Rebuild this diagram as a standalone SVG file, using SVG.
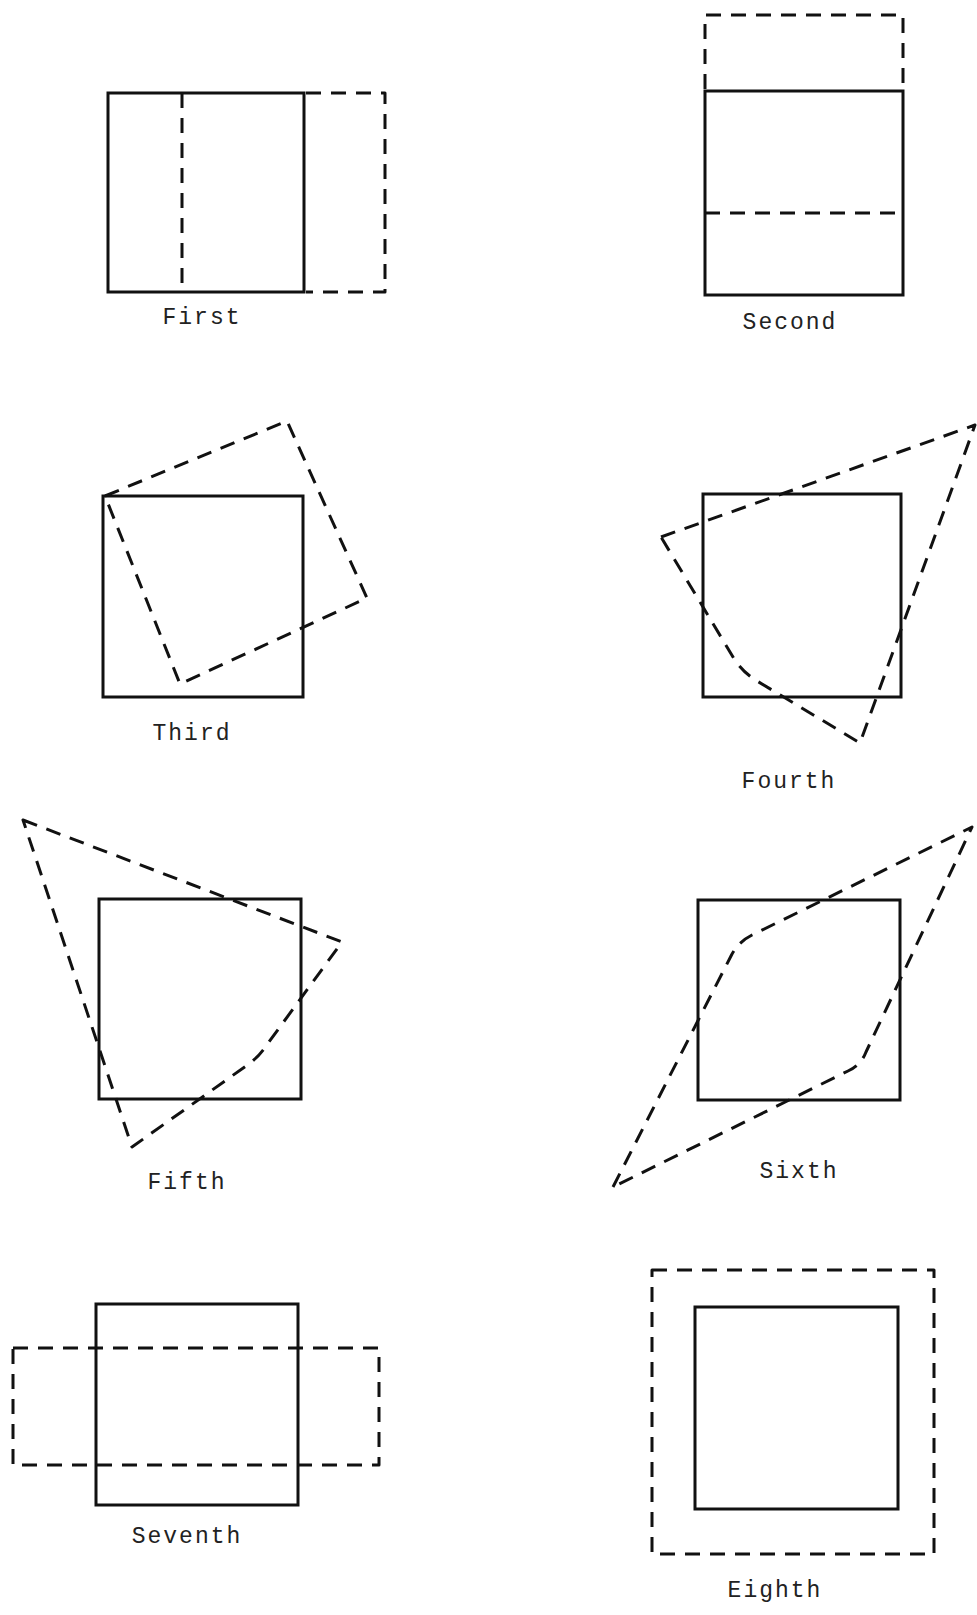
<svg xmlns="http://www.w3.org/2000/svg" width="977" height="1615" viewBox="0 0 977 1615">
<style>
.solid{fill:none;stroke:#111;stroke-width:3;stroke-linejoin:miter}
.dash{fill:none;stroke:#111;stroke-width:3;stroke-dasharray:15 10;stroke-linejoin:round}
.lbl{font-family:"Liberation Mono","DejaVu Sans Mono",monospace;font-size:23px;letter-spacing:2px;fill:#222;text-anchor:middle}
</style>
<rect width="977" height="1615" fill="#fff"/>
<g id="first">
<rect class="solid" x="108" y="93" width="196" height="199"/>
<line class="dash" x1="182" y1="93" x2="182" y2="292"/>
<polyline class="dash" points="306,93 385,93 385,292 306,292"/>
<text class="lbl" x="202" y="324">First</text>
</g>
<g id="second">
<rect class="solid" x="705" y="91" width="198" height="204"/>
<line class="dash" x1="705" y1="213" x2="903" y2="213"/>
<polyline class="dash" points="705,89 705,15 903,15 903,89"/>
<text class="lbl" x="790" y="329">Second</text>
</g>
<g id="third">
<rect class="solid" x="103" y="496" width="200" height="201"/>
<polygon class="dash" points="105,496 287,421 367,598 180,684"/>
<text class="lbl" x="192" y="740">Third</text>
</g>
<g id="fourth">
<rect class="solid" x="703" y="494" width="198" height="203"/>
<path class="dash" d="M661,537 L975,425 L860,743 L757,681 Q742,672 733,657 Z"/>
<text class="lbl" x="789" y="788">Fourth</text>
</g>
<g id="fifth">
<rect class="solid" x="99" y="899" width="202" height="200"/>
<path class="dash" d="M23,820 L342,942 L266,1046 Q258,1058 246,1066 L132,1147 Z"/>
<text class="lbl" x="187" y="1189">Fifth</text>
</g>
<g id="sixth">
<rect class="solid" x="698" y="900" width="202" height="200"/>
<path class="dash" d="M613,1187 L731,956 Q738,942 752,935 L972,827 L866,1052 Q861,1065 848,1071 Z"/>
<text class="lbl" x="799" y="1178">Sixth</text>
</g>
<g id="seventh">
<rect class="solid" x="96" y="1304" width="202" height="201"/>
<rect class="dash" x="13" y="1348" width="366" height="117"/>
<text class="lbl" x="187" y="1543">Seventh</text>
</g>
<g id="eighth">
<rect class="solid" x="695" y="1307" width="203" height="202"/>
<rect class="dash" x="652" y="1270" width="282" height="284"/>
<text class="lbl" x="775" y="1597">Eighth</text>
</g>
</svg>
